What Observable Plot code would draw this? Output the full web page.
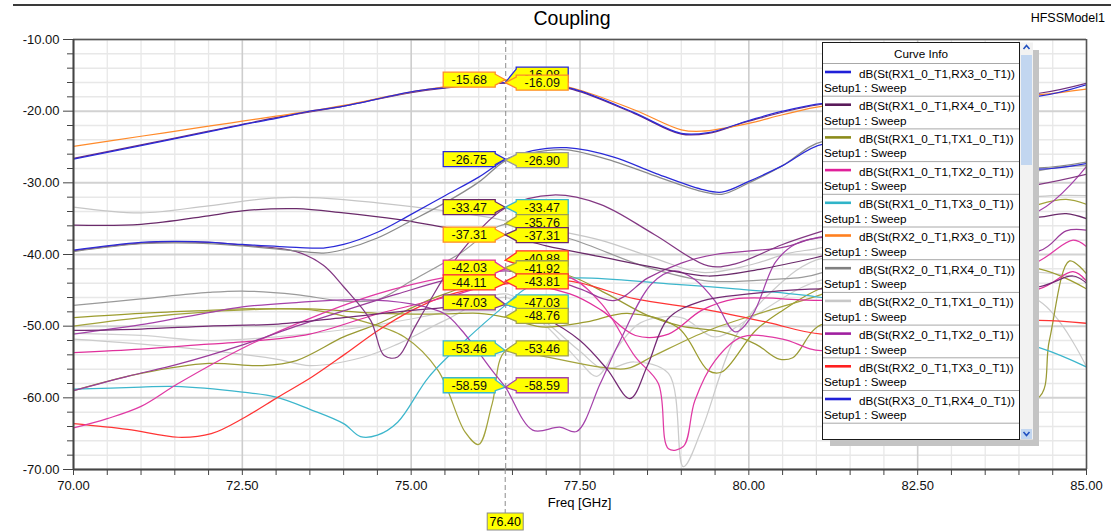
<!DOCTYPE html>
<html><head><meta charset="utf-8">
<script src="https://cdn.jsdelivr.net/npm/d3@7"></script>
<script src="https://cdn.jsdelivr.net/npm/@observablehq/plot@0.6"></script>
<style>
html,body{margin:0;padding:0;background:#fff;overflow:hidden;}
#chart{width:1111px;height:531px;}
</style></head><body><div id="chart"></div>
<script>
// ---------- data ----------
const chartTitle = "Coupling";
const modelName = "HFSSModel1";
const xLabel = "Freq [GHz]";
const freqMarker = 76.40;
const yTicks = [-10,-20,-30,-40,-50,-60,-70];
const yMinor = [-12,-14,-16,-18,-22,-24,-26,-28,-32,-34,-36,-38,-42,-44,-46,-48,-52,-54,-56,-58,-62,-64,-66,-68];
const xTicks = [70,72.5,75,77.5,80,82.5,85];
const xMinor = [70.5,71,71.5,72,73,73.5,74,74.5,75.5,76,76.5,77,78,78.5,79,79.5,80.5,81,81.5,82,83,83.5,84,84.5];

const c_RX3_RX4 = [[70,-26.7],[71,-24.8],[72,-22.9],[72.5,-21.9],[73,-21.0],[73.5,-20.0],[74,-19.3],[75,-17.3],[75.5,-16.7],[76,-16.2],[76.4,-16.0],[76.8,-16.0],[77.4,-16.9],[78.3,-20.2],[79,-23.1],[79.4,-23.0],[80,-21.3],[80.5,-20.0],[81.1,-18.9],[82,-18.5],[83,-18.3],[84.3,-17.9],[85,-16.3]];
const c_RX2_RX3 = [[70,-24.9],[71,-23.5],[72,-22.1],[72.5,-21.4],[73,-20.7],[73.5,-20.0],[74,-19.2],[75,-17.3],[75.5,-16.6],[76,-16.0],[76.4,-15.68],[76.8,-15.9],[77.4,-16.8],[78.3,-19.8],[79,-22.6],[79.3,-22.8],[80,-21.7],[80.5,-20.5],[81.1,-19.3],[82,-18.9],[83,-18.5],[84.3,-17.7],[85,-16.9]];
const c_RX1_RX4 = [[70,-26.6],[71,-24.7],[72,-22.8],[73,-20.9],[74,-19.3],[75,-17.4],[76,-16.3],[76.4,-16.09],[76.8,-16.1],[77.4,-17.0],[78.3,-20.3],[79,-23.2],[79.4,-23.1],[80,-21.4],[81.1,-19.0],[83,-18.2],[84.3,-17.5],[85,-16.1]];
const c_RX1_RX3 = [[70,-39.4],[71,-38.3],[71.8,-38.2],[72.5,-38.6],[73.3,-39.0],[73.7,-39.1],[74,-38.6],[74.5,-36.9],[75,-34.4],[75.5,-31.8],[76,-29.2],[76.4,-26.75],[76.8,-25.5],[77.3,-25.1],[78,-26.4],[78.6,-28.6],[79.3,-30.9],[79.6,-31.3],[80,-29.8],[80.5,-27.6],[81.1,-24.6],[82,-25.5],[83,-27.2],[84.3,-28.1],[85,-27.3]];
const c_RX2_RX4 = [[70,-39.6],[71,-38.5],[71.8,-38.4],[72.5,-38.8],[73.3,-39.5],[73.7,-39.8],[74,-39.3],[74.5,-37.7],[75,-35.3],[75.5,-32.8],[76,-29.9],[76.4,-26.9],[76.8,-25.8],[77.3,-25.4],[78,-27.0],[78.6,-29.0],[79.3,-31.2],[79.6,-31.6],[80,-30.0],[80.5,-27.6],[81.1,-24.2],[82,-25.3],[83,-27.0],[84.3,-27.9],[85,-27.1]];
const c_RX2_TX1 = [[70,-33.4],[71,-34.2],[72,-33.2],[73,-32.1],[73.8,-32.2],[74.5,-32.8],[75.5,-33.9],[76.2,-34.9],[76.4,-35.3],[77,-36.4],[77.8,-38.0],[78.6,-40.5],[79.3,-42.5],[80,-41.5],[80.6,-39.8],[81.1,-39.0],[82.5,-35.0],[84.3,-31.9],[85,-31.8]];
const c_RX3_TX1 = [[70,-35.9],[71,-35.8],[72,-34.6],[72.5,-33.9],[73.3,-33.6],[74,-34.2],[74.8,-35.1],[75.5,-36.2],[76,-36.9],[76.4,-37.31],[77,-38.8],[77.8,-40.3],[78.6,-41.8],[79.4,-43.0],[80.2,-42.0],[81.1,-40.2],[82.5,-37.0],[84.3,-34.8],[84.7,-34.3],[85,-35.0]];
const c_RX2_TX2 = [[70,-39.5],[71,-38.4],[72,-38.3],[72.5,-38.7],[73.3,-39.6],[73.7,-41.5],[74,-44.5],[74.4,-49.2],[74.6,-54.1],[74.8,-54.3],[75.05,-50.2],[75.25,-46.9],[75.75,-39.5],[76.4,-33.47],[77.1,-31.7],[77.8,-33.0],[78.6,-37.2],[79.4,-41.6],[79.8,-41.3],[80.5,-38.6],[81.1,-36.7],[82.5,-32.5],[84.3,-30.2],[85,-28.8]];
const c_RX4_TX2 = [[70,-47.1],[71,-46.2],[72,-45.3],[72.5,-45.1],[73.3,-45.6],[74,-46.5],[74.5,-46.3],[75,-43.7],[75.7,-40.0],[76.4,-35.76],[77.35,-37.8],[78.5,-41.8],[79.4,-43.7],[80.3,-43.5],[81.1,-42.5],[82.5,-35.0],[84.3,-28.3],[85,-27.6]];
const c_RX1_TX1 = [[70,-48.8],[71,-48.2],[72,-47.8],[72.5,-47.6],[73.5,-47.6],[74.5,-48.2],[75.5,-48.3],[76,-48.2],[76.4,-48.76],[76.93,-50.1],[77.6,-49.4],[78.2,-48.2],[78.95,-50.2],[79.4,-56.2],[79.6,-56.4],[80.1,-50.6],[80.5,-47.8],[81.1,-44.6],[82.5,-42.0],[84.3,-42.0],[85,-44.8]];
const c_RX3_TX2 = [[70,-50.0],[71,-48.8],[72,-48.0],[73,-47.6],[73.5,-47.7],[74.2,-49.1],[74.9,-51.5],[75.4,-56.2],[75.8,-64.8],[76.0,-66.5],[76.2,-60.8],[76.4,-53.46],[77.0,-54.3],[77.8,-55.7],[78.2,-55.9],[78.6,-54.1],[79.4,-50.6],[80.3,-47.8],[81.1,-45.5],[82.5,-40.0],[84.3,-33.0],[84.7,-32.3],[85,-33.0]];
const c_TX1_TX2 = [[70,-59.0],[71,-56.6],[72,-55.2],[72.8,-55.5],[73.3,-54.8],[74,-51.5],[74.5,-49.7],[75.25,-46.4],[75.75,-44.6],[76.4,-41.92],[77.35,-43.0],[77.9,-45.5],[78.5,-48.5],[79.0,-50.0],[79.6,-50.8],[80.1,-52.5],[80.45,-54.6],[80.65,-54.4],[81.1,-49.7],[82.5,-55.0],[84.27,-60.1],[84.45,-52.0],[84.75,-40.9],[85,-42.7]];
const c_RX1_TX2 = [[70,-64.2],[70.5,-62.9],[71,-61.2],[71.55,-58.0],[72.54,-52.9],[73.53,-48.8],[74.5,-45.5],[75.5,-43.2],[76.4,-42.03],[77.35,-43.2],[77.82,-46.9],[78.32,-54.3],[78.66,-58.0],[78.81,-67.1],[79.03,-66.8],[79.2,-60.4],[79.5,-54.8],[79.9,-51.5],[80.5,-51.8],[81.1,-53.4],[82.5,-48.0],[84.3,-40.9],[84.8,-38.0],[85,-38.9]];
const c_RX3_TX3 = [[70,-53.7],[71,-53.2],[72,-52.5],[72.5,-52.2],[73.5,-51.1],[74.5,-48.3],[75.5,-46.0],[76.4,-44.0],[77.35,-45.5],[77.82,-47.8],[78.32,-51.3],[78.81,-51.1],[79.3,-47.8],[79.8,-46.2],[81.08,-46.4],[82.5,-46.0],[84.3,-44.8],[84.8,-42.4],[85,-43.7]];
const c_RX1_TX3 = [[70,-58.8],[71,-58.5],[71.5,-58.4],[72.5,-59.2],[73.0,-59.9],[73.5,-61.6],[74.0,-63.6],[74.25,-65.4],[74.5,-65.2],[74.8,-63.4],[75.26,-57.1],[75.8,-52.0],[76.4,-47.03],[76.73,-44.6],[77.35,-43.3],[78.81,-44.1],[79.8,-44.8],[81.08,-46.0],[82.5,-49.0],[84.3,-53.0],[85,-55.7]];
const c_RX2_TX3 = [[70,-63.6],[70.8,-64.4],[71.55,-65.5],[72.04,-65.0],[72.54,-62.7],[73.03,-59.9],[73.53,-57.1],[74.02,-53.9],[74.51,-50.6],[75.01,-47.8],[75.5,-45.8],[76.4,-44.11],[77.35,-43.7],[78.32,-46.2],[79.3,-47.6],[80.29,-49.5],[81.08,-51.1],[82.5,-50.0],[84.3,-49.2],[85,-49.6]];
const c_RX4_TX3 = [[70,-51.8],[71.5,-52.9],[73,-54.6],[73.5,-55.5],[74.3,-54.3],[74.8,-52.5],[75.5,-49.2],[76.4,-45.5],[77.0,-49.5],[77.5,-53.5],[77.85,-56.0],[78.3,-55.0],[78.81,-56.6],[79.03,-69.6],[79.3,-64.5],[79.8,-51.5],[80.3,-45.5],[81.1,-40.5],[82.5,-43.0],[84.3,-46.5],[85,-55.7]];
const c_TX2_TX3 = [[70,-51.0],[71,-51.3],[72,-52.0],[73,-51.5],[74,-50.5],[75,-49.0],[76,-47.0],[76.4,-46.0],[77.0,-50.0],[77.5,-55.0],[77.75,-57.0],[78.05,-53.0],[78.4,-49.5],[79.0,-48.8],[79.5,-51.5],[80.0,-49.0],[81.1,-43.5],[82.5,-44.0],[84.3,-42.5],[85,-43.5]];
const c_RX4_TX1 = [[70,-51.1],[71,-49.8],[72,-48.1],[72.5,-47.3],[73.3,-46.7],[74.2,-46.3],[75,-46.9],[75.5,-48.3],[75.75,-50.6],[76.2,-56.2],[76.4,-58.59],[76.8,-64.5],[77.2,-64.1],[77.45,-64.7],[77.8,-58.0],[78.07,-52.5],[78.56,-44.1],[78.9,-42.3],[79.2,-43.5],[79.5,-46.5],[79.8,-50.8],[80.05,-48.5],[80.4,-41.0],[80.7,-38.5],[81.1,-37.6],[82.5,-37.5],[84.3,-33.9],[85,-27.7]];
const c_TX1_TX3 = [[70,-59.0],[70.8,-57.0],[71.55,-55.3],[72.54,-52.5],[73.3,-50.0],[74.02,-47.8],[74.8,-45.5],[75.5,-43.6],[76.4,-42.3],[77.0,-43.2],[77.5,-44.8],[78.02,-46.4],[78.5,-43.3],[79.0,-41.2],[79.5,-40.0],[80.5,-39.0],[81.1,-37.5],[82.5,-38.0],[84.3,-39.5],[84.7,-36.7],[85,-36.6]];
const c_RX4_TX4 = [[70,-50.6],[71,-50.4],[72,-50.0],[73.03,-49.7],[74,-48.8],[75.01,-47.8],[75.8,-47.2],[76.4,-47.03],[77.0,-49.0],[77.5,-52.0],[77.9,-56.0],[78.24,-60.1],[78.5,-55.5],[78.8,-49.0],[79.3,-46.5],[80,-45.5],[81.1,-44.8],[82.5,-45.5],[84.3,-44.5],[84.8,-43.0],[85,-44.0]];

// series in drawing order
const seriesKeys = ["RX4_TX3","TX2_TX3","RX2_TX1","RX4_TX2","RX1_TX1","RX3_TX2","TX1_TX2","RX1_TX3","RX2_TX3","RX3_TX3","RX1_TX2","RX4_TX1","TX1_TX3","RX4_TX4","RX2_TX2","RX3_TX1","RX2_RX4","RX1_RX3","RX1_RX4","RX2_RX3","RX3_RX4"];
const seriesData = {RX3_RX4:c_RX3_RX4,RX2_RX3:c_RX2_RX3,RX1_RX4:c_RX1_RX4,RX1_RX3:c_RX1_RX3,RX2_RX4:c_RX2_RX4,RX2_TX1:c_RX2_TX1,RX3_TX1:c_RX3_TX1,RX2_TX2:c_RX2_TX2,RX4_TX2:c_RX4_TX2,RX1_TX1:c_RX1_TX1,RX3_TX2:c_RX3_TX2,TX1_TX2:c_TX1_TX2,RX1_TX2:c_RX1_TX2,RX3_TX3:c_RX3_TX3,RX1_TX3:c_RX1_TX3,RX2_TX3:c_RX2_TX3,RX4_TX3:c_RX4_TX3,TX2_TX3:c_TX2_TX3,RX4_TX1:c_RX4_TX1,TX1_TX3:c_TX1_TX3,RX4_TX4:c_RX4_TX4};

// legend entries (visible part of the Curve Info list)
const legendNames = ["dB(St(RX1_0_T1,RX3_0_T1))","dB(St(RX1_0_T1,RX4_0_T1))","dB(St(RX1_0_T1,TX1_0_T1))","dB(St(RX1_0_T1,TX2_0_T1))","dB(St(RX1_0_T1,TX3_0_T1))","dB(St(RX2_0_T1,RX3_0_T1))","dB(St(RX2_0_T1,RX4_0_T1))","dB(St(RX2_0_T1,TX1_0_T1))","dB(St(RX2_0_T1,TX2_0_T1))","dB(St(RX2_0_T1,TX3_0_T1))","dB(St(RX3_0_T1,RX4_0_T1))"];
const legendSub = "Setup1 : Sweep";

// marker readouts at 76.40 GHz
const markerLeftVals = [-15.68,-26.75,-33.47,-37.31,-42.03,-44.11,-47.03,-53.46,-58.59];
const markerRightVals = [-16.08,-16.09,-26.90,-33.47,-35.76,-37.31,-40.88,-41.92,-43.81,-47.03,-48.76,-53.46,-58.59];

// ---------- styles ----------
const colorOf = {
  RX3_RX4:"#2a2ad8", RX1_RX3:"#2a2ad8", RX2_RX3:"#ff8a2a", RX1_RX4:"#6e2e7e", RX2_RX4:"#8a8a8a",
  RX2_TX1:"#c6c6c6", RX4_TX3:"#cbcbcb", TX2_TX3:"#d0d0d0", RX4_TX2:"#9a9a9a",
  RX1_TX1:"#9c9c2e", RX3_TX2:"#a3a33c", TX1_TX2:"#9a9a34",
  RX1_TX3:"#3cb6cc", RX2_TX3:"#ff3434", RX3_TX3:"#e0309c", RX1_TX2:"#e03aa4",
  RX4_TX1:"#a442aa", TX1_TX3:"#9a3c9a", RX4_TX4:"#742a74", RX2_TX2:"#833883", RX3_TX1:"#6a2a6a"
};
const legendColors = ["#2020d8","#5a1a5a","#8b8b1a","#e0209a","#30b4c8","#ff8020","#808080","#c8c8c8","#a020a0","#ff2020","#2020d8"];
const leftBorders = ["#ff8a2a","#2a2ad8","#6a2a6a","#ff8a2a","#e0309c","#ff3030","#8a3a8a","#3cb6cc","#3cb6cc"];
const rightBorders = ["#2a2ad8","#ff8a2a","#9a9a9a","#3cb6cc","#a0a050","#6a2a6a","#ff3030","#a0a050","#ff3030","#3cb6cc","#a0a050","#a0a050","#a442aa"];
const rightDy = [-8,0,0,0,-1.5,0.5,-2,0.5,0,-2,-1,-2,-2];
const leftDy = [0,0,0,0,-1,-1,-2,-2,-2];
const FONT = "'Liberation Sans', Arial, sans-serif";

// ---------- plot ----------
const lineMarks = seriesKeys.map(k => Plot.line(seriesData[k], {
  x: d => d[0], y: d => d[1], stroke: colorOf[k], strokeWidth: 1.25, curve: "catmull-rom", clip: true
}));

const plot = Plot.plot({
  width: 1111, height: 531,
  marginLeft: 73, marginRight: 25, marginTop: 39, marginBottom: 62,
  x: {domain: [70, 85]},
  y: {domain: [-70, -10]},
  style: {fontFamily: FONT, fontSize: "13px", color: "#000", background: "#fff"},
  marks: [
    Plot.ruleY(yMinor, {stroke: "#e8e8e8", strokeWidth: 1.5}),
    Plot.ruleX(xMinor, {stroke: "#e8e8e8", strokeWidth: 1.3}),
    Plot.ruleY(yTicks, {stroke: "#d2d2d2", strokeWidth: 2}),
    Plot.ruleX(xTicks, {stroke: "#cdcdcd", strokeWidth: 1.6}),
    ...lineMarks,
    Plot.ruleX([freqMarker], {stroke: "#8c8c8c", strokeDasharray: "5,3", strokeWidth: 1}),
    Plot.ruleY([-10], {stroke: "#555", strokeWidth: 1.5}),
    Plot.ruleX([85], {stroke: "#555", strokeWidth: 1.5}),
    Plot.ruleX([70], {stroke: "#444", strokeWidth: 2}),
    Plot.ruleY([-70], {stroke: "#444", strokeWidth: 2}),
    Plot.axisY(yMinor, {tickSize: 6, tickFormat: () => "", stroke: "#444", label: null}),
    Plot.axisY(yTicks, {tickSize: 10, tickPadding: 4, tickFormat: d => d.toFixed(2), stroke: "#444", fill: "#111", fontSize: 13, label: null}),
    Plot.axisX(xMinor, {tickSize: 6, tickFormat: () => "", stroke: "#444", label: null}),
    Plot.axisX(xTicks, {tickSize: 6, tickPadding: 5, tickFormat: d => d.toFixed(2), stroke: "#444", fill: "#111", fontSize: 13, label: null})
  ]
});
document.getElementById("chart").appendChild(plot);

const svg = d3.select(plot);
const xS = plot.scale("x"), yS = plot.scale("y");
const xm = xS.apply(freqMarker);
const yBottom = yS.apply(-70);

function addText(parent, x, y, str, size, anchor) {
  return parent.append("text").attr("x", x).attr("y", y).attr("text-anchor", anchor)
    .attr("dominant-baseline", "central").attr("font-family", FONT).attr("font-size", size)
    .attr("fill", "#000").text(str);
}

// top chrome
svg.append("line").attr("x1", 13).attr("x2", 1111).attr("y1", 5).attr("y2", 5).attr("stroke", "#3a3a3a").attr("stroke-width", 2);
addText(svg, 572, 18, chartTitle, 19.5, "middle");
addText(svg, 1105, 18, modelName, 12.5, "end");
addText(svg, (xS.apply(70) + xS.apply(85)) / 2, 502, xLabel, 13, "middle");

// marker extension + bottom readout
svg.append("line").attr("x1", xm).attr("x2", xm).attr("y1", yBottom).attr("y2", 513)
  .attr("stroke", "#8c8c8c").attr("stroke-dasharray", "5,3");
svg.append("rect").attr("x", xm - 18).attr("y", 513).attr("width", 36).attr("height", 17)
  .attr("fill", "#ffff00").attr("stroke", "#8a8a8a");
addText(svg, xm, 521.5, freqMarker.toFixed(2), 12.5, "middle");

// marker labels
function drawLabel(side, v, dy, border) {
  const ym = yS.apply(v), cy = ym + dy, h = 15, w = 52;
  const yt = cy - h / 2, yb = cy + h / 2;
  let pts, tx;
  if (side === "L") {
    const xr = xm - 10, xl = xr - w;
    pts = [[xl, yt], [xr, yt], [xr, yt + 2], [xm, ym], [xr, yb - 2], [xr, yb], [xl, yb]];
    tx = (xl + xr) / 2;
  } else {
    const xl = xm + 11, xr = xl + w;
    pts = [[xl, yt], [xr, yt], [xr, yb], [xl, yb], [xl, yb - 2], [xm, ym], [xl, yt + 2]];
    tx = (xl + xr) / 2;
  }
  svg.append("polygon").attr("points", pts.map(p => p.join(",")).join(" "))
    .attr("fill", "#ffff00").attr("stroke", border).attr("stroke-width", 1.3);
  addText(svg, tx, cy + 0.5, v.toFixed(2), 12.5, "middle").attr("fill", "#111");
}
markerLeftVals.forEach((v, i) => drawLabel("L", v, leftDy[i], leftBorders[i]));
markerRightVals.forEach((v, i) => drawLabel("R", v, rightDy[i], rightBorders[i]));

// legend (Curve Info)
const lg = svg.append("g");
lg.append("rect").attr("x", 830).attr("y", 50).attr("width", 209).attr("height", 396).attr("fill", "#c4c4c4");
lg.append("rect").attr("x", 822.5).attr("y", 42.5).attr("width", 197).attr("height", 397).attr("fill", "#fff").attr("stroke", "#1a1a1a");
lg.append("rect").attr("x", 1020).attr("y", 42.5).attr("width", 13).attr("height", 397).attr("fill", "#f2f2f2");
lg.append("rect").attr("x", 1021).attr("y", 55).attr("width", 11).attr("height", 110).attr("fill", "#c2d6f0");
lg.append("rect").attr("x", 1021).attr("y", 429).attr("width", 11).attr("height", 10).attr("fill", "#c2d6f0");
lg.append("path").attr("d", "M1023.5,49 L1026.5,45.5 L1029.5,49").attr("fill", "none").attr("stroke", "#2050c0").attr("stroke-width", 1.6);
lg.append("path").attr("d", "M1023.5,432 L1026.5,435.5 L1029.5,432").attr("fill", "none").attr("stroke", "#2050c0").attr("stroke-width", 1.6);
addText(lg, 921, 53.5, "Curve Info", 11.7, "middle");
const sep0 = 63.5, step = 32.7;
lg.append("line").attr("x1", 823).attr("x2", 1019).attr("y1", sep0).attr("y2", sep0).attr("stroke", "#a8a8a8");
legendNames.forEach((name, i) => {
  const top = sep0 + step * i;
  lg.append("line").attr("x1", 825).attr("x2", 851).attr("y1", top + 8.5).attr("y2", top + 8.5)
    .attr("stroke", legendColors[i]).attr("stroke-width", 2.6);
  addText(lg, 859, top + 9.5, name, 11.7, "start");
  addText(lg, 824, top + 24, legendSub, 11.7, "start");
  lg.append("line").attr("x1", 823).attr("x2", 1019).attr("y1", top + step).attr("y2", top + step).attr("stroke", "#a8a8a8");
});
</script></body></html>
